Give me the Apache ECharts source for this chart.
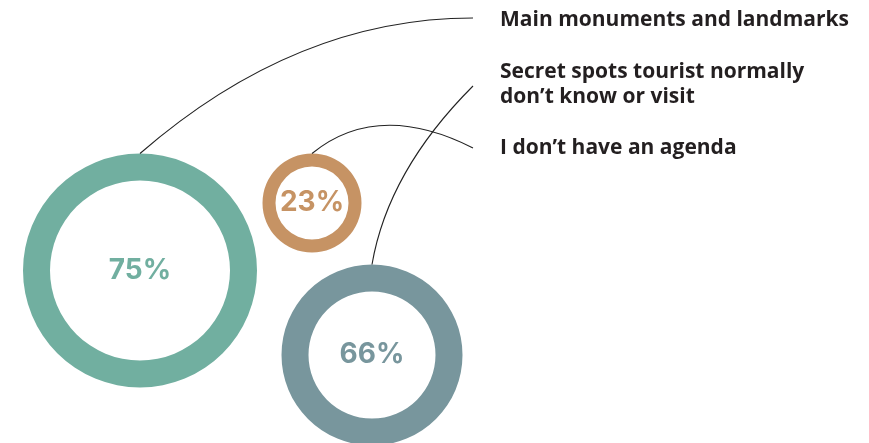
<!DOCTYPE html>
<html>
<head>
<meta charset="utf-8">
<title>Travel preferences</title>
<script src="https://cdn.jsdelivr.net/npm/echarts@6/dist/echarts.min.js"></script>
<style>
  html, body { margin: 0; padding: 0; background: #ffffff; }
  #chart { width: 869px; height: 443px; }
</style>
</head>
<body>
<div id="chart"></div>
<script>
// Answer categories and their shares (percent)
const categories = [
  'Main monuments and landmarks',
  'Secret spots tourist normally\ndon\u2019t know or visit',
  'I don\u2019t have an agenda'
];
const shares = [75, 66, 23];
const colors = ['#71AFA0', '#78969D', '#C69364'];

// Layout of each ring: centre, inner and outer radius
const rings = [
  { cx: 140, cy: 270.5, r0: 90, r1: 117 },
  { cx: 372, cy: 355, r0: 63.5, r1: 90.5 },
  { cx: 312, cy: 203, r0: 36.5, r1: 49.5 }
];
// Label anchor (vertical middle of text block) and connector end point
const labelX = 500;
const labelY = [20, 85, 148];
const lineEnds = [[473, 18], [473, 86], [473, 148]];
// Quadratic control points of the connectors
const ctrl = [[296, 18], [388, 171], [378, 100]];

const series = shares.map((v, i) => ({
  type: 'pie',
  center: [rings[i].cx, rings[i].cy],
  radius: [rings[i].r0, rings[i].r1],
  silent: true,
  animation: false,
  startAngle: 90,
  itemStyle: { color: colors[i], borderWidth: 0 },
  label: {
    show: true,
    position: 'center',
    formatter: '{c}%',
    color: colors[i],
    fontFamily: 'Inter',
    fontWeight: 'bold',
    fontSize: 28
  },
  labelLine: { show: false },
  emphasis: { disabled: true },
  data: [{ name: categories[i], value: v }]
}));

const graphics = [];
categories.forEach((name, i) => {
  const r = rings[i];
  graphics.push({
    type: 'bezierCurve',
    silent: true,
    shape: {
      x1: r.cx, y1: r.cy - r.r1,
      cpx1: ctrl[i][0], cpy1: ctrl[i][1],
      x2: lineEnds[i][0], y2: lineEnds[i][1]
    },
    style: { stroke: '#222222', lineWidth: 1.1, fill: null },
    z: 10
  });
  graphics.push({
    type: 'text',
    x: labelX,
    y: labelY[i],
    silent: true,
    style: {
      text: name,
      fill: '#231F20',
      fontFamily: 'Open Sans',
      fontWeight: 'bold',
      fontSize: 21,
      lineHeight: 25,
      verticalAlign: 'middle',
      align: 'left'
    }
  });
});

const chart = echarts.init(document.getElementById('chart'), null, { renderer: 'canvas' });
chart.setOption({
  animation: false,
  backgroundColor: '#ffffff',
  series: series,
  graphic: graphics
});
</script>
</body>
</html>
